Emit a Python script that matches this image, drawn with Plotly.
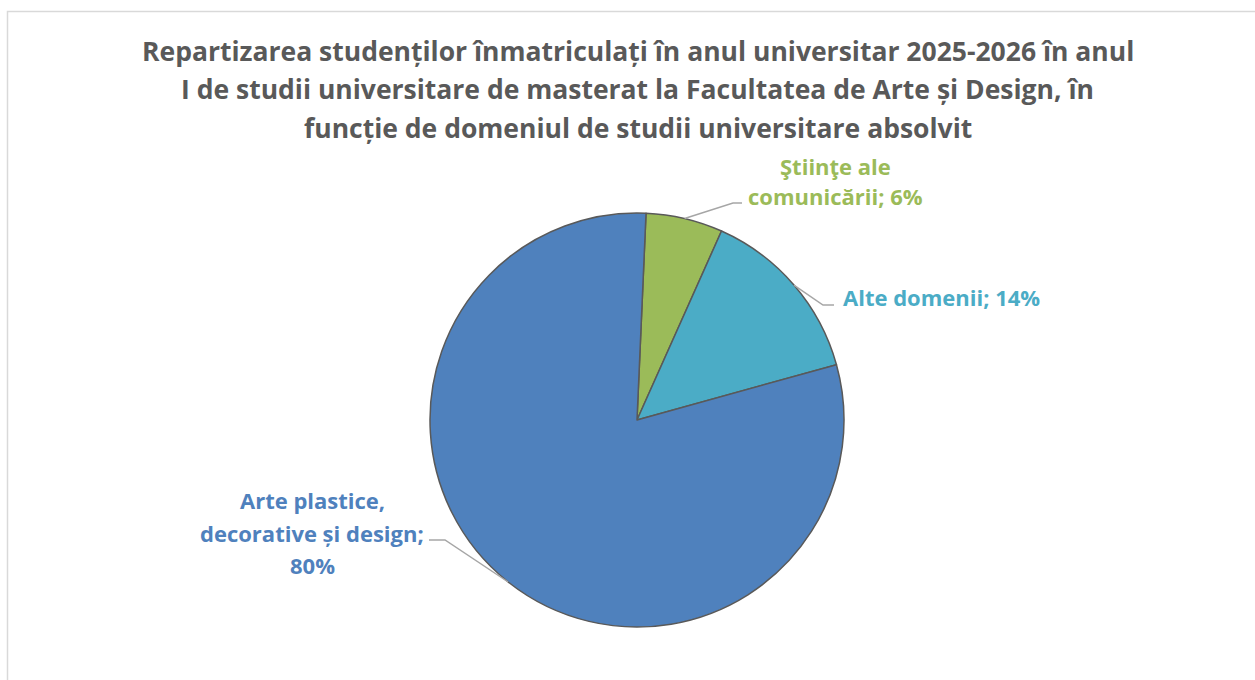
import math
import plotly.graph_objects as go

# ---- data ----
categories = ["Ştiinţe ale comunicării", "Alte domenii", "Arte plastice, decorative și design"]
values = [6, 14, 80]
colors = ["#9BBB59", "#4BACC6", "#4F81BD"]
label_lines = [
    ["Ştiinţe ale", "comunicării; 6%"],
    ["Alte domenii; 14%"],
    ["Arte plastice,", "decorative și design;", "80%"],
]
title_lines = [
    "Repartizarea studenților înmatriculați în anul universitar 2025-2026 în anul",
    "I de studii universitare de masterat la Facultatea de Arte și Design, în",
    "funcție de domeniul de studii universitare absolvit",
]

W, H = 1255, 680
FONT = "Open Sans"
cx, cy, R = 637, 420, 207
rotation = 2.5


def px(x):
    return x / W


def py(y):
    return 1 - y / H


fig = go.Figure()
fig.add_trace(go.Pie(
    labels=categories, values=values, sort=False, direction="clockwise",
    rotation=rotation, textinfo="none", hoverinfo="label+percent",
    marker=dict(colors=colors, line=dict(color="#595959", width=1.5)),
    domain=dict(x=[px(cx - R), px(cx + R)], y=[py(cy + R), py(cy - R)]),
    showlegend=False,
))

# label positions (layout: center x, first line y, line spacing) and leader elbows
label_pos = [(835, 166, 30), (941, 297, 32), (312, 500, 32.5)]
elbows = [[(733, 203), (742, 203)], [(823, 305), (834, 305)], [(445, 540), (429, 540)]]

annotations = []
for i, line in enumerate(title_lines):
    annotations.append(dict(text="<b>%s</b>" % line, x=px(638), y=py(51 + i * 38.4),
                            xref="paper", yref="paper", showarrow=False,
                            xanchor="center", yanchor="middle",
                            font=dict(family=FONT, size=26.5, color="#595959")))

shapes = []
total = sum(values)
start = rotation
for i, v in enumerate(values):
    span = 360 * v / total
    mid = math.radians(start + span / 2)
    start += span
    ex, ey = cx + R * math.sin(mid), cy - R * math.cos(mid)
    pts = [(ex, ey)] + elbows[i]
    path = "M %s %s" % (px(pts[0][0]), py(pts[0][1]))
    for (a, b) in pts[1:]:
        path += " L %s %s" % (px(a), py(b))
    shapes.append(dict(type="path", path=path, xref="paper", yref="paper",
                       line=dict(color="#A6A6A6", width=1.5)))
    lx, ly, ls = label_pos[i]
    for j, txt in enumerate(label_lines[i]):
        annotations.append(dict(text="<b>%s</b>" % txt, x=px(lx), y=py(ly + j * ls),
                                xref="paper", yref="paper", showarrow=False,
                                xanchor="center", yanchor="middle", align="center",
                                font=dict(family=FONT, size=22, color=colors[i])))

# chart border
shapes.append(dict(type="rect", xref="paper", yref="paper", x0=px(7.5), y0=-0.1,
                   x1=1.1, y1=py(11.5), line=dict(color="#D9D9D9", width=1.5),
                   fillcolor="rgba(0,0,0,0)", layer="below"))

fig.update_layout(width=W, height=H, margin=dict(l=0, r=0, t=0, b=0),
                  paper_bgcolor="white", plot_bgcolor="white",
                  annotations=annotations, shapes=shapes)
fig.write_html("out.html", config={"displayModeBar": False},
               post_script="document.body.style.margin='0px';")
